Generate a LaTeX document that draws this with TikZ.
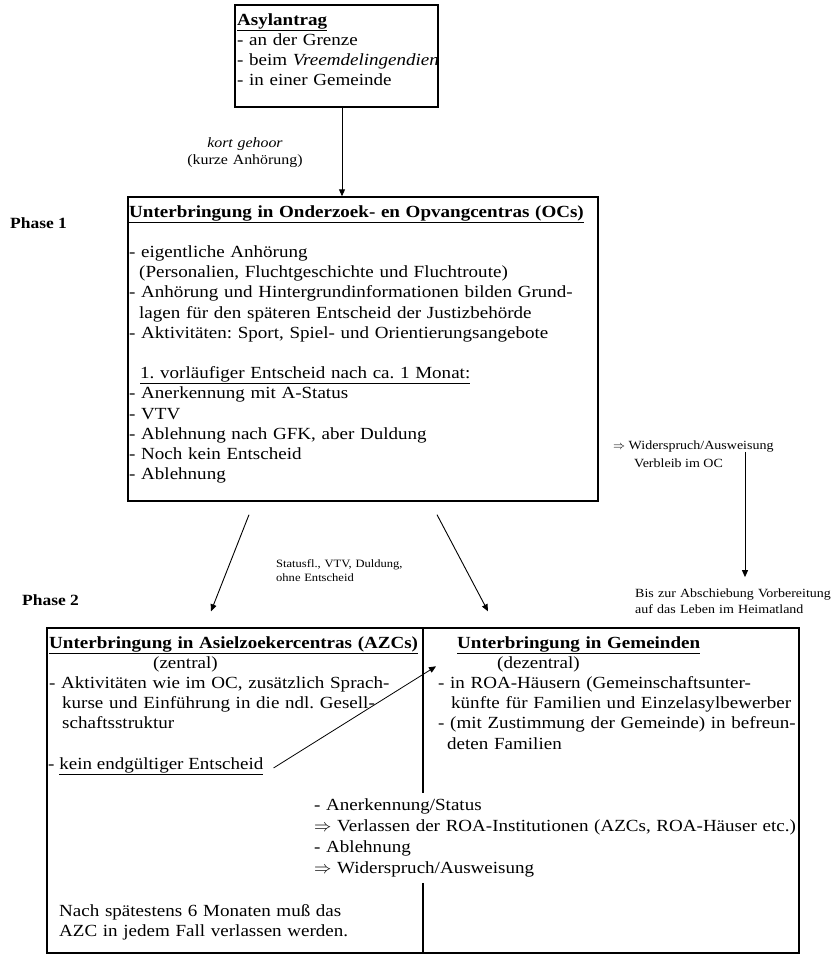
\documentclass[tikz,border=0pt]{standalone}
\usepackage{fontspec}
\setmainfont[FakeStretch=1.12]{Liberation Serif}
\usetikzlibrary{arrows.meta, positioning}
\frenchspacing

\newcommand\maintext{\fontsize{17pt}{20.2pt}\selectfont}
\newcommand\midtext{\fontsize{17pt}{21.3pt}\selectfont}
\newcommand\smalltext{\fontsize{12.5pt}{16pt}\selectfont}
\newcommand\statustext{\fontsize{11.2pt}{14pt}\selectfont}
\newcommand\kurzetext{\fontsize{14.2pt}{16.5pt}\selectfont}
\newcommand\phasetext{\fontsize{15.6pt}{18pt}\selectfont}

\begin{document}
\begin{tikzpicture}[
  x=1pt, y=-1pt,
  box/.style={draw, line width=1.4pt, inner sep=0pt},
  txt/.style={font=\maintext, align=left, text width=480pt,
              inner sep=0pt, anchor=base west},
  small/.style={font=\smalltext, inner sep=0pt, anchor=base west},
  phase/.style={font=\phasetext\bfseries, inner sep=0pt, anchor=base west},
  arr/.style={line width=0.9pt, -{Triangle[length=7pt, width=6pt]}}
]
  \useasboundingbox (0,0) rectangle (832,959);

  % Boxes
  \node[box, minimum width=203pt, minimum height=102pt] (antrag) at (336.5,56) {};
  \node[box, minimum width=470pt, minimum height=304pt] (oc) at (363,349) {};
  \node[box, minimum width=752pt, minimum height=325pt] (bot) at (423,790.5) {};

  % Asylantrag (text cut by the frame)
  \begin{scope}
    \clip (antrag.north west) rectangle (antrag.south east);
    \node[txt] (antragtxt) at (237,25)
      {\underline{\textbf{Asylantrag}}\\
       - an der Grenze\\
       - beim \textit{Vreemdelingendienst}\\
       - in einer Gemeinde};
  \end{scope}

  \node[font=\kurzetext, align=center, text width=140pt, inner sep=0pt,
        anchor=base] (kort) at (245,147.5)
    {\textit{kort gehoor}\\(kurze Anhörung)};
  \draw[arr] ([xshift=5.5pt]antrag.south) -- ([xshift=5.5pt]antrag.south |- oc.north);

  % Phase 1
  \node[phase] (phase1) at (10,228) {Phase 1};
  \node[txt] (octxt) at (129,217)
    {\underline{\textbf{Unterbringung in Onderzoek- en Opvangcentras (OCs)}}\\[20.2pt]
     - eigentliche Anhörung\\
     \hspace*{10pt}(Personalien, Fluchtgeschichte und Fluchtroute)\\
     - Anhörung und Hintergrundinformationen bilden Grund-\\
     \hspace*{10pt}lagen für den späteren Entscheid der Justizbehörde\\
     - Aktivitäten: Sport, Spiel- und Orientierungsangebote\\[20.2pt]
     \hspace*{11pt}\underline{1. vorläufiger Entscheid nach ca. 1 Monat:}\\
     - Anerkennung mit A-Status\\
     - VTV\\
     - Ablehnung nach GFK, aber Duldung\\
     - Noch kein Entscheid\\
     - Ablehnung};

  % Right branch
  \node[small] (wid) at (613,449) {$\Rightarrow$ Widerspruch/Ausweisung};
  \node[small] (verbleib) at (634,467) {Verbleib im OC};
  \node[small, align=left, text width=200pt] (bis) at (635,597)
    {Bis zur Abschiebung Vorbereitung\\auf das Leben im Heimatland};
  \draw[arr, shorten >=11pt] ([xshift=132pt]wid.south west)
    -- ([xshift=132pt]wid.south west |- bis.north);

  % Down to phase 2
  \draw[arr] ([shift={(-114,13)}]oc.south) -- ([shift={(-212,-16)}]bot.north);
  \draw[arr] ([shift={(74,13)}]oc.south) -- ([shift={(65,-16)}]bot.north);
  \node[font=\statustext, align=left, text width=160pt, inner sep=0pt,
        anchor=base west] (status) at (276,567)
    {Statusfl., VTV, Duldung,\\ohne Entscheid};

  % Phase 2
  \node[phase] (phase2) at (22,605) {Phase 2};
  \node[txt] (azctxt) at (49,648)
    {\underline{\textbf{Unterbringung in Asielzoekercentras (AZCs)}}\\
     \hspace*{104pt}(zentral)\\
     - Aktivitäten wie im OC, zusätzlich Sprach-\\
     \hspace*{13pt}kurse und Einführung in die ndl. Gesell-\\
     \hspace*{13pt}schaftsstruktur};
  \node[font=\maintext, inner sep=0pt, anchor=base west] (kein) at (48,769)
    {- \underline{kein endgültiger Entscheid}};
  \node[txt] (gemtxt) at (438,648)
    {\hspace*{19pt}\underline{\textbf{Unterbringung in Gemeinden}}\\
     \hspace*{59pt}(dezentral)\\
     - in ROA-Häusern (Gemeinschaftsunter-\\
     \hspace*{13pt}künfte für Familien und Einzelasylbewerber\\
     - (mit Zustimmung der Gemeinde) in befreun-\\
     \hspace*{9pt}deten Familien};
  \draw[arr, line width=0.8pt] ([shift={(10,2)}]kein.east) -- ([shift={(13,39)}]bot.north);

  \node[txt, font=\midtext, text width=520pt, inner ysep=5pt] (mitte) at (314,810)
    {- Anerkennung/Status\\
     $\Rightarrow$ Verlassen der ROA-Institutionen (AZCs, ROA-Häuser etc.)\\
     - Ablehnung\\
     $\Rightarrow$ Widerspruch/Ausweisung};
  \node[txt] (frist) at (59,916)
    {Nach spätestens 6 Monaten muß das\\AZC in jedem Fall verlassen werden.};

  % Divider, broken by the middle text
  \draw[line width=1.2pt] (bot.north) -- (bot.north |- mitte.north);
  \draw[line width=1.2pt] (bot.north |- mitte.south) -- (bot.south);
\end{tikzpicture}
\end{document}
